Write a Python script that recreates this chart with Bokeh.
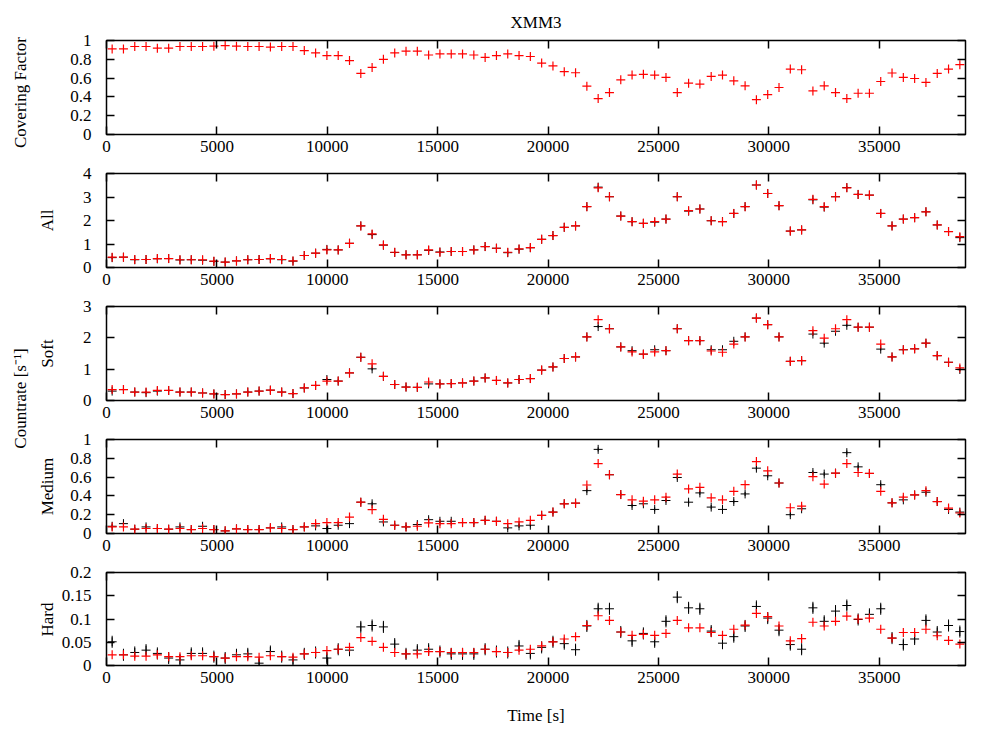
import math
from bokeh.plotting import figure
from bokeh.models import ColumnDataSource, Range1d, LinearAxis, FixedTicker, CustomJSTickFormatter
from bokeh.layouts import row, column
from bokeh.embed import file_html
from bokeh.resources import INLINE
from bokeh.core.properties import value

# ---------------- data ----------------
time_s = [256, 768, 1280, 1792, 2304, 2816, 3328, 3840, 4352, 4864,
          5376, 5888, 6400, 6912, 7424, 7936, 8448, 8960, 9472, 9984,
          10496, 11008, 11520, 12032, 12544, 13056, 13568, 14080, 14592, 15104,
          15616, 16128, 16640, 17152, 17664, 18176, 18688, 19200, 19712, 20224,
          20736, 21248, 21760, 22272, 22784, 23296, 23808, 24320, 24832, 25344,
          25856, 26368, 26880, 27392, 27904, 28416, 28928, 29440, 29952, 30464,
          30976, 31488, 32000, 32512, 33024, 33536, 34048, 34560, 35072, 35584,
          36096, 36608, 37120, 37632, 38144, 38656]

covering_model = [0.91, 0.91, 0.936, 0.936, 0.918, 0.918, 0.936, 0.936, 0.936, 0.94,
                  0.946, 0.94, 0.936, 0.936, 0.93, 0.936, 0.936, 0.893, 0.868, 0.84,
                  0.84, 0.786, 0.65, 0.714, 0.80, 0.868, 0.886, 0.886, 0.846, 0.857,
                  0.857, 0.857, 0.846, 0.82, 0.84, 0.857, 0.84, 0.83, 0.76, 0.73,
                  0.668, 0.657, 0.514, 0.382, 0.446, 0.582, 0.632, 0.64, 0.632, 0.607,
                  0.446, 0.546, 0.536, 0.618, 0.632, 0.571, 0.518, 0.371, 0.425, 0.5,
                  0.696, 0.689, 0.464, 0.518, 0.446, 0.382, 0.439, 0.439, 0.564, 0.654,
                  0.607, 0.596, 0.554, 0.65, 0.696, 0.743]

all_model = [0.44, 0.44, 0.34, 0.34, 0.38, 0.38, 0.33, 0.33, 0.33, 0.27,
             0.23, 0.28, 0.33, 0.34, 0.38, 0.34, 0.28, 0.51, 0.61, 0.75,
             0.75, 1.03, 1.77, 1.43, 0.96, 0.65, 0.54, 0.54, 0.75, 0.65,
             0.68, 0.68, 0.75, 0.89, 0.82, 0.65, 0.79, 0.85, 1.20, 1.36,
             1.71, 1.77, 2.59, 3.39, 3.01, 2.19, 1.95, 1.88, 1.95, 2.06,
             3.01, 2.42, 2.49, 1.99, 1.95, 2.30, 2.59, 3.51, 3.15, 2.63,
             1.55, 1.60, 2.90, 2.59, 3.01, 3.39, 3.11, 3.08, 2.30, 1.77,
             2.06, 2.12, 2.37, 1.81, 1.53, 1.31]
all_data = [0.42, 0.44, 0.33, 0.34, 0.37, 0.38, 0.32, 0.33, 0.31, 0.26,
            0.23, 0.28, 0.33, 0.34, 0.37, 0.33, 0.27, 0.51, 0.61, 0.77,
            0.75, 1.03, 1.77, 1.40, 0.95, 0.64, 0.54, 0.54, 0.73, 0.66,
            0.68, 0.68, 0.75, 0.89, 0.82, 0.63, 0.78, 0.84, 1.20, 1.36,
            1.71, 1.77, 2.59, 3.42, 3.01, 2.19, 1.95, 1.88, 1.93, 2.06,
            3.01, 2.40, 2.49, 1.99, 1.95, 2.30, 2.59, 3.51, 3.15, 2.63,
            1.55, 1.60, 2.88, 2.57, 3.01, 3.40, 3.11, 3.08, 2.30, 1.77,
            2.06, 2.12, 2.37, 1.81, 1.53, 1.27]

soft_model = [0.35, 0.35, 0.27, 0.27, 0.32, 0.32, 0.27, 0.27, 0.24, 0.21,
              0.19, 0.21, 0.27, 0.30, 0.33, 0.27, 0.22, 0.40, 0.48, 0.62,
              0.62, 0.88, 1.38, 1.17, 0.77, 0.51, 0.43, 0.42, 0.59, 0.53,
              0.54, 0.56, 0.62, 0.72, 0.64, 0.56, 0.67, 0.70, 0.97, 1.07,
              1.34, 1.39, 2.03, 2.58, 2.29, 1.71, 1.55, 1.48, 1.55, 1.59,
              2.29, 1.91, 1.91, 1.58, 1.54, 1.80, 2.03, 2.63, 2.42, 2.03,
              1.25, 1.27, 2.23, 1.99, 2.29, 2.58, 2.34, 2.34, 1.80, 1.39,
              1.62, 1.65, 1.83, 1.43, 1.22, 1.04]
soft_data = [0.30, 0.35, 0.27, 0.25, 0.30, 0.32, 0.27, 0.27, 0.24, 0.21,
             0.19, 0.21, 0.27, 0.30, 0.33, 0.27, 0.22, 0.40, 0.48, 0.67,
             0.62, 0.88, 1.38, 1.01, 0.77, 0.51, 0.43, 0.42, 0.53, 0.53,
             0.54, 0.56, 0.62, 0.72, 0.64, 0.56, 0.67, 0.70, 0.97, 1.07,
             1.34, 1.39, 2.03, 2.36, 2.29, 1.71, 1.59, 1.48, 1.62, 1.59,
             2.29, 1.91, 1.91, 1.62, 1.62, 1.89, 2.03, 2.63, 2.42, 2.03,
             1.25, 1.27, 2.12, 1.83, 2.21, 2.40, 2.34, 2.34, 1.64, 1.39,
             1.62, 1.65, 1.83, 1.43, 1.22, 0.99]

medium_model = [0.07, 0.07, 0.046, 0.053, 0.053, 0.046, 0.053, 0.042, 0.053, 0.042,
                0.028, 0.049, 0.042, 0.042, 0.06, 0.053, 0.042, 0.07, 0.105, 0.116,
                0.116, 0.175, 0.333, 0.253, 0.151, 0.088, 0.07, 0.077, 0.112, 0.105,
                0.105, 0.116, 0.116, 0.14, 0.13, 0.105, 0.123, 0.14, 0.193, 0.228,
                0.316, 0.323, 0.516, 0.744, 0.625, 0.414, 0.358, 0.344, 0.358, 0.386,
                0.632, 0.474, 0.491, 0.379, 0.358, 0.449, 0.519, 0.765, 0.667, 0.537,
                0.274, 0.291, 0.604, 0.526, 0.642, 0.744, 0.649, 0.639, 0.449, 0.326,
                0.386, 0.41, 0.456, 0.34, 0.27, 0.218]
medium_data = [0.077, 0.105, 0.046, 0.07, 0.053, 0.046, 0.07, 0.042, 0.077, 0.042,
               0.028, 0.049, 0.042, 0.042, 0.06, 0.07, 0.042, 0.07, 0.081, 0.053,
               0.088, 0.105, 0.333, 0.316, 0.123, 0.088, 0.07, 0.095, 0.147, 0.13,
               0.13, 0.116, 0.116, 0.14, 0.13, 0.06, 0.081, 0.088, 0.193, 0.228,
               0.316, 0.323, 0.456, 0.895, 0.625, 0.414, 0.298, 0.316, 0.256, 0.351,
               0.596, 0.333, 0.432, 0.281, 0.256, 0.34, 0.421, 0.695, 0.614, 0.537,
               0.2, 0.263, 0.649, 0.632, 0.642, 0.86, 0.709, 0.639, 0.519, 0.326,
               0.358, 0.41, 0.439, 0.34, 0.256, 0.228]

hard_model = [0.023, 0.023, 0.02, 0.02, 0.023, 0.019, 0.019, 0.021, 0.021, 0.019,
              0.016, 0.019, 0.019, 0.018, 0.021, 0.019, 0.018, 0.025, 0.028, 0.032,
              0.035, 0.039, 0.06, 0.052, 0.039, 0.028, 0.025, 0.025, 0.03, 0.03,
              0.028, 0.028, 0.028, 0.035, 0.03, 0.028, 0.033, 0.035, 0.042, 0.051,
              0.057, 0.062, 0.086, 0.107, 0.097, 0.072, 0.065, 0.067, 0.065, 0.069,
              0.097, 0.081, 0.081, 0.071, 0.065, 0.078, 0.087, 0.112, 0.105, 0.085,
              0.053, 0.058, 0.093, 0.085, 0.095, 0.106, 0.1, 0.102, 0.078, 0.059,
              0.071, 0.071, 0.078, 0.064, 0.054, 0.046]
hard_data = [0.051, 0.023, 0.028, 0.033, 0.026, 0.016, 0.012, 0.026, 0.026, 0.019,
             0.016, 0.023, 0.025, 0.005, 0.03, 0.019, 0.012, 0.025, 0.028, 0.016,
             0.035, 0.033, 0.083, 0.086, 0.083, 0.046, 0.025, 0.033, 0.035, 0.03,
             0.025, 0.025, 0.025, 0.035, 0.03, 0.028, 0.042, 0.026, 0.039, 0.051,
             0.047, 0.034, 0.085, 0.122, 0.122, 0.072, 0.053, 0.069, 0.051, 0.095,
             0.147, 0.124, 0.122, 0.074, 0.048, 0.062, 0.085, 0.127, 0.102, 0.076,
             0.045, 0.035, 0.124, 0.095, 0.117, 0.129, 0.099, 0.11, 0.122, 0.059,
             0.045, 0.057, 0.097, 0.072, 0.086, 0.073]

# typical 1-sigma errors of the measured rates
err_all = 0.06
err_soft = 0.05
err_medium = 0.022
err_hard = 0.013

x_ticks = [0, 5000, 10000, 15000, 20000, 25000, 30000, 35000]
x_end = 38912

y_ends = [1, 4, 3, 1, 0.2]
y_tick_sets = [[0, 0.2, 0.4, 0.6, 0.8, 1],
               [0, 1, 2, 3, 4],
               [0, 1, 2, 3],
               [0, 0.2, 0.4, 0.6, 0.8, 1],
               [0, 0.05, 0.1, 0.15, 0.2]]

label_text = ["Covering Factor", "All", "Soft", "Medium", "Hard", "Countrate [s\u207b\u00b9]"]

# ---------------- styling ----------------
FONT = "Liberation Serif"
FS = "17px"
FRAME_H = 94
FIG_W = 934
STRIP_W = 58


def style_axis(ax, ticks, show_labels):
    ax.ticker = FixedTicker(ticks=ticks)
    ax.axis_line_color = None
    ax.major_tick_in = 8
    ax.major_tick_out = 0
    ax.major_tick_line_color = "black"
    ax.major_tick_line_width = 1.5
    ax.minor_tick_line_color = None
    ax.major_label_text_font = FONT
    ax.major_label_text_font_size = FS
    ax.major_label_text_color = "black"
    if show_labels:
        ax.formatter = CustomJSTickFormatter(code="return String(Math.round(tick*1000)/1000);")
    else:
        ax.formatter = CustomJSTickFormatter(code="return '';")
        ax.major_label_text_font_size = "1px"
        ax.major_label_standoff = 0


def make_panel(model, data, err, y_end, y_ticks, top, bottom, title=None, xlabel=None):
    p = figure(width=FIG_W, height=top + FRAME_H + bottom,
               x_range=Range1d(0, x_end), y_range=Range1d(0, y_end),
               output_backend="svg", toolbar_location=None,
               x_axis_location=None, y_axis_location=None,
               min_border_left=47, min_border_right=27,
               min_border_top=top, min_border_bottom=bottom)
    p.outline_line_color = "black"
    p.outline_line_width = 1.5
    p.background_fill_color = "white"
    p.border_fill_color = "white"
    p.grid.grid_line_color = None
    p.grid.visible = False

    xb = LinearAxis()
    style_axis(xb, x_ticks, True)
    xb.major_label_standoff = 6
    xa = LinearAxis()
    style_axis(xa, x_ticks, False)
    yl = LinearAxis()
    style_axis(yl, y_ticks, True)
    yl.major_label_standoff = 15
    yr = LinearAxis()
    style_axis(yr, y_ticks, False)
    if xlabel:
        xb.axis_label = xlabel
        xb.axis_label_text_font = FONT
        xb.axis_label_text_font_size = FS
        xb.axis_label_text_font_style = "normal"
        xb.axis_label_text_color = "black"
        xb.axis_label_standoff = 20
    p.add_layout(xb, "below")
    p.add_layout(xa, "above")
    p.add_layout(yl, "left")
    p.add_layout(yr, "right")

    if title:
        p.title.text = title
        p.title.align = "center"
        p.title.text_font = FONT
        p.title.text_font_size = FS
        p.title.text_font_style = "normal"
        p.title.text_color = "black"
        p.title.standoff = 18

    if data is not None:
        src = ColumnDataSource(dict(t=time_s, y=data,
                                    lo=[v - err for v in data],
                                    hi=[v + err for v in data]))
        p.segment(x0="t", y0="lo", x1="t", y1="hi", source=src,
                  line_color="black", line_width=1)
        p.scatter(x="t", y="y", source=src, marker="cross", size=9,
                  line_color="black", line_width=1)
    msrc = ColumnDataSource(dict(t=time_s, y=model))
    p.scatter(x="t", y="y", source=msrc, marker="cross", size=9,
              line_color="#ff0000", line_width=1.2)
    return p


p1 = make_panel(covering_model, None, 0, y_ends[0], y_tick_sets[0], 40, 27, title="XMM3")
p2 = make_panel(all_model, all_data, err_all, y_ends[1], y_tick_sets[1], 12, 27)
p3 = make_panel(soft_model, soft_data, err_soft, y_ends[2], y_tick_sets[2], 12, 27)
p4 = make_panel(medium_model, medium_data, err_medium, y_ends[3], y_tick_sets[3], 12, 27)
p5 = make_panel(hard_model, hard_data, err_hard, y_ends[4], y_tick_sets[4], 12, 61, xlabel="Time [s]")

TOTAL_H = p1.height + p2.height + p3.height + p4.height + p5.height

# label strip on the left (coordinates = pixels from the top-left of the page)
strip = figure(width=STRIP_W, height=TOTAL_H, x_range=Range1d(0, STRIP_W), y_range=Range1d(TOTAL_H, 0),
               output_backend="svg", toolbar_location=None,
               x_axis_location=None, y_axis_location=None, min_border=0)
strip.outline_line_color = None
strip.background_fill_color = "white"
strip.border_fill_color = "white"
strip.grid.visible = False

label_x = [20, 47, 47, 47, 47, 20]
label_y = [92, 220, 353, 486, 619, 398]
strip.text(x=label_x, y=label_y, text=label_text, angle=math.pi / 2,
           text_font=value(FONT), text_font_size=FS, text_color="black",
           text_align="center", text_baseline="middle")

layout = row(strip, column(p1, p2, p3, p4, p5, spacing=0), spacing=0)

with open("out.html", "w") as f:
    f.write(file_html(layout, INLINE, title="XMM3"))
